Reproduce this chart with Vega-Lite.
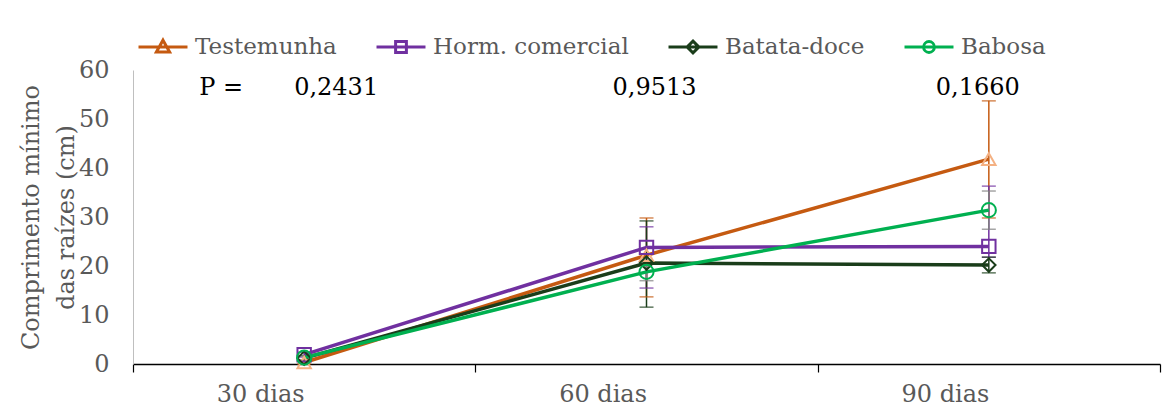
{
  "$schema": "https://vega.github.io/schema/vega-lite/v6.json",
  "width": 1027,
  "height": 294,
  "autosize": "none",
  "padding": {"left": 133, "top": 70, "right": 15, "bottom": 46},
  "background": "white",
  "config": {
    "view": {"stroke": null},
    "font": "DejaVu Serif"
  },
  "datasets": {
    "d": [
      {"dia": "30 dias", "serie": "Testemunha", "v": 0.3, "lo": 0.0, "hi": 0.6},
      {"dia": "60 dias", "serie": "Testemunha", "v": 22.2, "lo": 13.7, "hi": 29.8},
      {"dia": "90 dias", "serie": "Testemunha", "v": 41.8, "lo": 29.8, "hi": 53.7},
      {"dia": "30 dias", "serie": "Horm. comercial", "v": 1.9, "lo": 1.4, "hi": 2.4},
      {"dia": "60 dias", "serie": "Horm. comercial", "v": 23.8, "lo": 15.5, "hi": 28.0},
      {"dia": "90 dias", "serie": "Horm. comercial", "v": 24.0, "lo": 21.8, "hi": 36.3},
      {"dia": "30 dias", "serie": "Batata-doce", "v": 1.2, "lo": 0.7, "hi": 1.7},
      {"dia": "60 dias", "serie": "Batata-doce", "v": 20.6, "lo": 11.6, "hi": 29.2},
      {"dia": "90 dias", "serie": "Batata-doce", "v": 20.2, "lo": 18.6, "hi": 21.8},
      {"dia": "30 dias", "serie": "Babosa", "v": 1.3, "lo": 0.9, "hi": 1.7},
      {"dia": "60 dias", "serie": "Babosa", "v": 18.8, "lo": 17.0, "hi": 21.0},
      {"dia": "90 dias", "serie": "Babosa", "v": 31.4, "lo": 27.5, "hi": 35.3}
    ]
  },
  "layer": [
    {
      "data": {"name": "d"},
      "transform": [{"filter": "datum.serie !== 'Babosa'"}],
      "mark": {"type": "rule", "strokeWidth": 1.5},
      "encoding": {
        "x": {"field": "dia", "type": "nominal", "bandPosition": 0.5},
        "y": {"field": "lo", "type": "quantitative"},
        "y2": {"field": "hi"},
        "color": {"field": "serie", "type": "nominal"}
      }
    },
    {
      "data": {"name": "d"},
      "transform": [{"filter": "datum.serie !== 'Babosa'"}, {"fold": ["lo", "hi"], "as": ["k", "cap"]}],
      "mark": {"type": "tick", "size": 14, "thickness": 1.5, "orient": "horizontal"},
      "encoding": {
        "x": {"field": "dia", "type": "nominal", "bandPosition": 0.5},
        "y": {"field": "cap", "type": "quantitative"},
        "color": {"field": "serie", "type": "nominal"}
      }
    },
    {
      "data": {"name": "d"},
      "transform": [{"filter": "datum.serie === 'Babosa'"}],
      "mark": {"type": "rule", "strokeWidth": 1.5, "color": "#7f7f7f"},
      "encoding": {
        "x": {"field": "dia", "type": "nominal", "bandPosition": 0.5},
        "y": {"field": "lo", "type": "quantitative"},
        "y2": {"field": "hi"}
      }
    },
    {
      "data": {"name": "d"},
      "transform": [{"filter": "datum.serie === 'Babosa'"}, {"fold": ["lo", "hi"], "as": ["k", "cap"]}],
      "mark": {"type": "tick", "size": 14, "thickness": 1.5, "orient": "horizontal", "color": "#7f7f7f"},
      "encoding": {
        "x": {"field": "dia", "type": "nominal", "bandPosition": 0.5},
        "y": {"field": "cap", "type": "quantitative"}
      }
    },
    {
      "data": {"name": "d"},
      "mark": {"type": "line", "strokeWidth": 3.5},
      "encoding": {
        "x": {
          "field": "dia", "type": "nominal", "bandPosition": 0.5,
          "scale": {"type": "band", "paddingInner": 0, "paddingOuter": 0},
          "axis": {
            "title": null,
            "labelAngle": 0,
            "domainColor": "#000000",
            "domainWidth": 1.5,
            "tickBand": "extent",
            "tickColor": "#000000",
            "tickWidth": 1.2,
            "tickSize": 8,
            "labelFont": "DejaVu Serif",
            "labelFontSize": 24,
            "labelColor": "#595959",
            "labelPadding": 22
          }
        },
        "y": {
          "field": "v", "type": "quantitative",
          "scale": {"domain": [0, 60], "nice": false},
          "axis": {
            "title": ["Comprimento mínimo", "das raízes (cm)"],
            "titleFont": "DejaVu Serif",
            "titleFontSize": 24,
            "titleFontWeight": "normal",
            "titleColor": "#595959",
            "titleLineHeight": 35,
            "titlePadding": 0,
            "values": [0, 10, 20, 30, 40, 50, 60],
            "grid": false,
            "ticks": false,
            "domainColor": "#bfbfbf",
            "domainWidth": 1,
            "labelFont": "DejaVu Serif",
            "labelFontSize": 24,
            "labelColor": "#595959",
            "labelPadding": 24
          }
        },
        "color": {
          "field": "serie", "type": "nominal",
          "scale": {
            "domain": ["Testemunha", "Horm. comercial", "Batata-doce", "Babosa"],
            "range": ["#C55A11", "#7030A0", "#1A3D1A", "#00B050"]
          },
          "legend": {
            "title": null,
            "orient": "none",
            "direction": "horizontal",
            "columns": 4,
            "legendX": 4,
            "legendY": -49,
            "padding": 0,
            "symbolSize": 2400,
            "symbolStrokeWidth": 3,
            "symbolFillColor": "transparent",
            "labelFont": "DejaVu Serif",
            "labelFontSize": 23,
            "labelColor": "#595959",
            "labelOffset": 6,
            "columnPadding": 33,
            "labelLimit": 400,
            "encode": {
              "symbols": {
                "update": {
                  "shape": {"signal": "datum.value === 'Testemunha' ? 'M-1,0H1M0,-0.28L0.27,0.2L-0.27,0.2Z' : datum.value === 'Horm. comercial' ? 'M-1,0H1M-0.22,-0.22H0.22V0.22H-0.22Z' : datum.value === 'Batata-doce' ? 'M-1,0H1M0,-0.24L0.24,0L0,0.24L-0.24,0Z' : 'M-1,0H1M0.22,0A0.22,0.22 0 1,1 -0.22,0A0.22,0.22 0 1,1 0.22,0Z'"},
                  "fill": {"value": "transparent"},
                  "fillOpacity": {"value": 0},
                  "strokeWidth": {"value": 3}
                }
              }
            }
          }
        }
      }
    },
    {
      "data": {"name": "d"},
      "transform": [{"filter": "datum.serie === 'Testemunha'"}],
      "mark": {"type": "point", "shape": "triangle-up", "filled": false, "size": 180, "strokeWidth": 2, "opacity": 1, "color": "#F4B183"},
      "encoding": {
        "x": {"field": "dia", "type": "nominal", "bandPosition": 0.5},
        "y": {"field": "v", "type": "quantitative"}
      }
    },
    {
      "data": {"name": "d"},
      "transform": [{"filter": "datum.serie === 'Horm. comercial'"}],
      "mark": {"type": "point", "shape": "square", "filled": false, "size": 180, "strokeWidth": 2, "opacity": 1, "color": "#7030A0"},
      "encoding": {
        "x": {"field": "dia", "type": "nominal", "bandPosition": 0.5},
        "y": {"field": "v", "type": "quantitative"}
      }
    },
    {
      "data": {"name": "d"},
      "transform": [{"filter": "datum.serie === 'Batata-doce'"}],
      "mark": {"type": "point", "shape": "diamond", "filled": false, "size": 180, "strokeWidth": 2, "opacity": 1, "color": "#1A3D1A"},
      "encoding": {
        "x": {"field": "dia", "type": "nominal", "bandPosition": 0.5},
        "y": {"field": "v", "type": "quantitative"}
      }
    },
    {
      "data": {"name": "d"},
      "transform": [{"filter": "datum.serie === 'Babosa'"}],
      "mark": {"type": "point", "shape": "circle", "filled": false, "size": 200, "strokeWidth": 2, "opacity": 1, "color": "#00B050"},
      "encoding": {
        "x": {"field": "dia", "type": "nominal", "bandPosition": 0.5},
        "y": {"field": "v", "type": "quantitative"}
      }
    },
    {
      "data": {"values": [{"dia": "30 dias", "pos": 56.3, "txt": "P ="}]},
      "mark": {"type": "text", "font": "DejaVu Serif", "fontSize": 24, "color": "#000000", "dx": -83, "baseline": "middle"},
      "encoding": {
        "x": {"field": "dia", "type": "nominal", "bandPosition": 0.5},
        "y": {"field": "pos", "type": "quantitative"},
        "text": {"field": "txt"}
      }
    },
    {
      "data": {"values": [{"dia": "30 dias", "pos": 56.3, "txt": "0,2431"}]},
      "mark": {"type": "text", "font": "DejaVu Serif", "fontSize": 24, "color": "#000000", "dx": 32, "baseline": "middle"},
      "encoding": {
        "x": {"field": "dia", "type": "nominal", "bandPosition": 0.5},
        "y": {"field": "pos", "type": "quantitative"},
        "text": {"field": "txt"}
      }
    },
    {
      "data": {"values": [{"dia": "60 dias", "pos": 56.3, "txt": "0,9513"}]},
      "mark": {"type": "text", "font": "DejaVu Serif", "fontSize": 24, "color": "#000000", "dx": 8, "baseline": "middle"},
      "encoding": {
        "x": {"field": "dia", "type": "nominal", "bandPosition": 0.5},
        "y": {"field": "pos", "type": "quantitative"},
        "text": {"field": "txt"}
      }
    },
    {
      "data": {"values": [{"dia": "90 dias", "pos": 56.3, "txt": "0,1660"}]},
      "mark": {"type": "text", "font": "DejaVu Serif", "fontSize": 24, "color": "#000000", "dx": -11, "baseline": "middle"},
      "encoding": {
        "x": {"field": "dia", "type": "nominal", "bandPosition": 0.5},
        "y": {"field": "pos", "type": "quantitative"},
        "text": {"field": "txt"}
      }
    }
  ]
}
